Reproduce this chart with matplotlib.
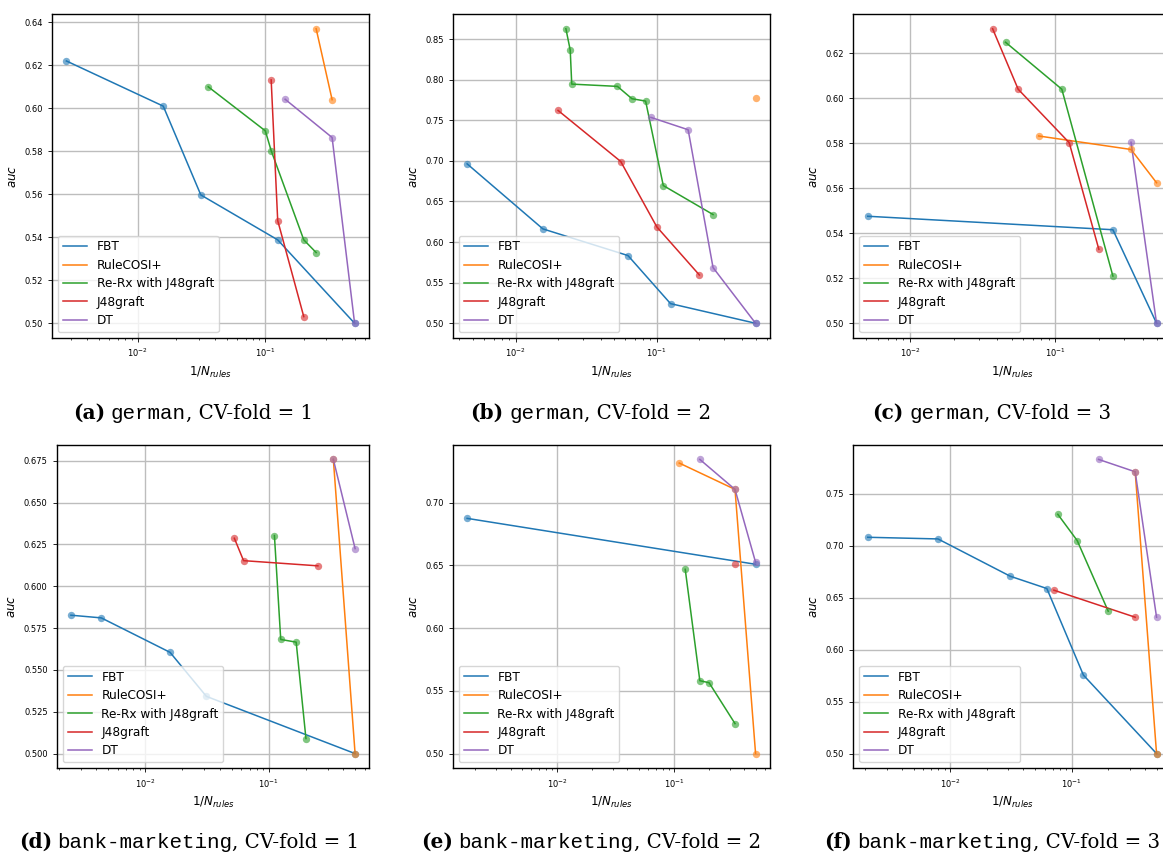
import matplotlib
matplotlib.use("Agg")
import matplotlib.pyplot as plt
import numpy as np
from matplotlib.offsetbox import TextArea, HPacker, AnnotationBbox

# ---------------- data (N = number of rules, x = 1/N) ----------------
methods = ["FBT", "RuleCOSI+", "Re-Rx with J48graft", "J48graft", "DT"]
colors = ["#1f77b4", "#ff7f0e", "#2ca02c", "#d62728", "#9467bd"]

# (a) german, fold 1
a_fbt_n = [361, 63, 32, 8, 2];            a_fbt_auc = [0.622, 0.601, 0.5597, 0.5388, 0.500]
a_cosi_n = [4, 3];                        a_cosi_auc = [0.637, 0.604]
a_rerx_n = [28, 10, 9, 5, 4];             a_rerx_auc = [0.610, 0.5895, 0.5803, 0.5388, 0.5329]
a_j48_n = [9, 8, 5];                      a_j48_auc = [0.6132, 0.5478, 0.5031]
a_dt_n = [7, 3, 2];                       a_dt_auc = [0.6042, 0.5864, 0.500]

# (b) german, fold 2
b_fbt_n = [220, 64, 16, 8, 2];            b_fbt_auc = [0.6963, 0.6162, 0.5834, 0.5242, 0.500]
b_cosi_n = [2];                           b_cosi_auc = [0.7769]
b_rerx_n = [44, 41, 40, 19, 15, 12, 9, 4]
b_rerx_auc = [0.8627, 0.8364, 0.7945, 0.7917, 0.7765, 0.7736, 0.6696, 0.6339]
b_j48_n = [50, 18, 10, 5];                b_j48_auc = [0.7621, 0.6992, 0.6187, 0.5595]
b_dt_n = [11, 6, 4, 2];                   b_dt_auc = [0.7535, 0.7383, 0.5686, 0.500]

# (c) german, fold 3
c_fbt_n = [196, 4, 2];                    c_fbt_auc = [0.5476, 0.5416, 0.500]
c_cosi_n = [13, 3, 2];                    c_cosi_auc = [0.5833, 0.5773, 0.5625]
c_rerx_n = [22, 9, 4];                    c_rerx_auc = [0.6250, 0.6041, 0.5210]
c_j48_n = [27, 18, 8, 5];                 c_j48_auc = [0.6310, 0.6041, 0.5803, 0.5329]
c_dt_n = [3, 2];                          c_dt_auc = [0.5805, 0.500]

# (d) bank-marketing, fold 1
d_fbt_n = [400, 227, 63, 32, 2];          d_fbt_auc = [0.5827, 0.5811, 0.5605, 0.5342, 0.500]
d_cosi_n = [3, 2];                        d_cosi_auc = [0.6758, 0.500]
d_rerx_n = [9, 8, 6, 5];                  d_rerx_auc = [0.6303, 0.5682, 0.5666, 0.509]
d_j48_n = [19, 16, 4];                    d_j48_auc = [0.6287, 0.6153, 0.6122]
d_dt_n = [3, 2];                          d_dt_auc = [0.6758, 0.6225]

# (e) bank-marketing, fold 2
e_fbt_n = [588, 2];                       e_fbt_auc = [0.6875, 0.6509]
e_cosi_n = [9, 3, 2];                     e_cosi_auc = [0.7316, 0.7106, 0.500]
e_rerx_n = [8, 6, 5, 3];                  e_rerx_auc = [0.6469, 0.5581, 0.5565, 0.5239]
e_j48_n = [3];                            e_j48_auc = [0.6509]
e_dt_n = [6, 3, 2];                       e_dt_auc = [0.7345, 0.7106, 0.6525]

# (f) bank-marketing, fold 3
f_fbt_n = [477, 126, 32, 16, 8, 2];       f_fbt_auc = [0.7081, 0.7065, 0.6706, 0.6588, 0.5755, 0.500]
f_cosi_n = [3, 2];                        f_cosi_auc = [0.7711, 0.500]
f_rerx_n = [13, 9, 5];                    f_rerx_auc = [0.7302, 0.7049, 0.637]
f_j48_n = [14, 3];                        f_j48_auc = [0.6572, 0.6312]
f_dt_n = [6, 3, 2];                       f_dt_auc = [0.783, 0.7711, 0.6312]

captions = [("(a)", "german", ", CV-fold = 1"),
            ("(b)", "german", ", CV-fold = 2"),
            ("(c)", "german", ", CV-fold = 3"),
            ("(d)", "bank-marketing", ", CV-fold = 1"),
            ("(e)", "bank-marketing", ", CV-fold = 2"),
            ("(f)", "bank-marketing", ", CV-fold = 3")]

panels = [
    [(a_fbt_n, a_fbt_auc), (a_cosi_n, a_cosi_auc), (a_rerx_n, a_rerx_auc), (a_j48_n, a_j48_auc), (a_dt_n, a_dt_auc)],
    [(b_fbt_n, b_fbt_auc), (b_cosi_n, b_cosi_auc), (b_rerx_n, b_rerx_auc), (b_j48_n, b_j48_auc), (b_dt_n, b_dt_auc)],
    [(c_fbt_n, c_fbt_auc), (c_cosi_n, c_cosi_auc), (c_rerx_n, c_rerx_auc), (c_j48_n, c_j48_auc), (c_dt_n, c_dt_auc)],
    [(d_fbt_n, d_fbt_auc), (d_cosi_n, d_cosi_auc), (d_rerx_n, d_rerx_auc), (d_j48_n, d_j48_auc), (d_dt_n, d_dt_auc)],
    [(e_fbt_n, e_fbt_auc), (e_cosi_n, e_cosi_auc), (e_rerx_n, e_rerx_auc), (e_j48_n, e_j48_auc), (e_dt_n, e_dt_auc)],
    [(f_fbt_n, f_fbt_auc), (f_cosi_n, f_cosi_auc), (f_rerx_n, f_rerx_auc), (f_j48_n, f_j48_auc), (f_dt_n, f_dt_auc)],
]

# ---------------- layout ----------------
W, H = 1163, 859
fig = plt.figure(figsize=(W / 100, H / 100), dpi=100)

# axes boxes in pixels: (left, top, width, height)
boxes = [(52, 14, 317, 324), (452.7, 14, 317.3, 324), (853.3, 14, 317.7, 324),
         (56.7, 444.7, 312.6, 323.6), (452.7, 444.7, 317.3, 323.6), (853.3, 444.7, 317.7, 323.6)]
cap_pos = [(193, 446), (591, 446), (992, 446), (189, 17), (591, 17), (992, 17)]

for i, (data, box) in enumerate(zip(panels, boxes)):
    l, t, w, h = box
    ax = fig.add_axes([l / W, 1 - (t + h) / H, w / W, h / H])
    ax.set_xscale("log")
    for (n, auc), lab, col in zip(data, methods, colors):
        x = 1.0 / np.asarray(n, dtype=float)
        ax.plot(x, auc, color=col, lw=1.1, label=lab, zorder=2)
        ax.scatter(x, auc, s=28, color=col, alpha=0.6, zorder=3, linewidths=0)
    ax.grid(True, which="major", color="#bdbdbd", lw=1.0)
    ax.set_axisbelow(True)
    ax.tick_params(axis="both", which="major", labelsize=6, length=3, width=0.6)
    ax.tick_params(axis="both", which="minor", length=1.5, width=0.5)
    for sp in ax.spines.values():
        sp.set_linewidth(1.0)
    ax.set_xlabel(r"$1/N_{rules}$", fontsize=8.6)
    ax.set_ylabel(r"$auc$", fontsize=8.6)
    ax.legend(loc="lower left", fontsize=8.7, framealpha=0.8, labelspacing=0.45)

    # caption with mixed fonts
    p, mono, rest = captions[i]
    head = HPacker(children=[
        TextArea(p, textprops=dict(family="DejaVu Serif", weight="bold", fontsize=14.5)),
        TextArea(mono, textprops=dict(family="Liberation Mono", fontsize=15)),
    ], align="baseline", pad=0, sep=4)
    pack = HPacker(children=[
        head,
        TextArea(rest, textprops=dict(family="DejaVu Serif", fontsize=14.2)),
    ], align="baseline", pad=0, sep=0)
    ab = AnnotationBbox(pack, cap_pos[i], xycoords="figure pixels",
                        box_alignment=(0.5, 0.5), frameon=False)
    fig.add_artist(ab)

fig.savefig("out.png", dpi=100)
